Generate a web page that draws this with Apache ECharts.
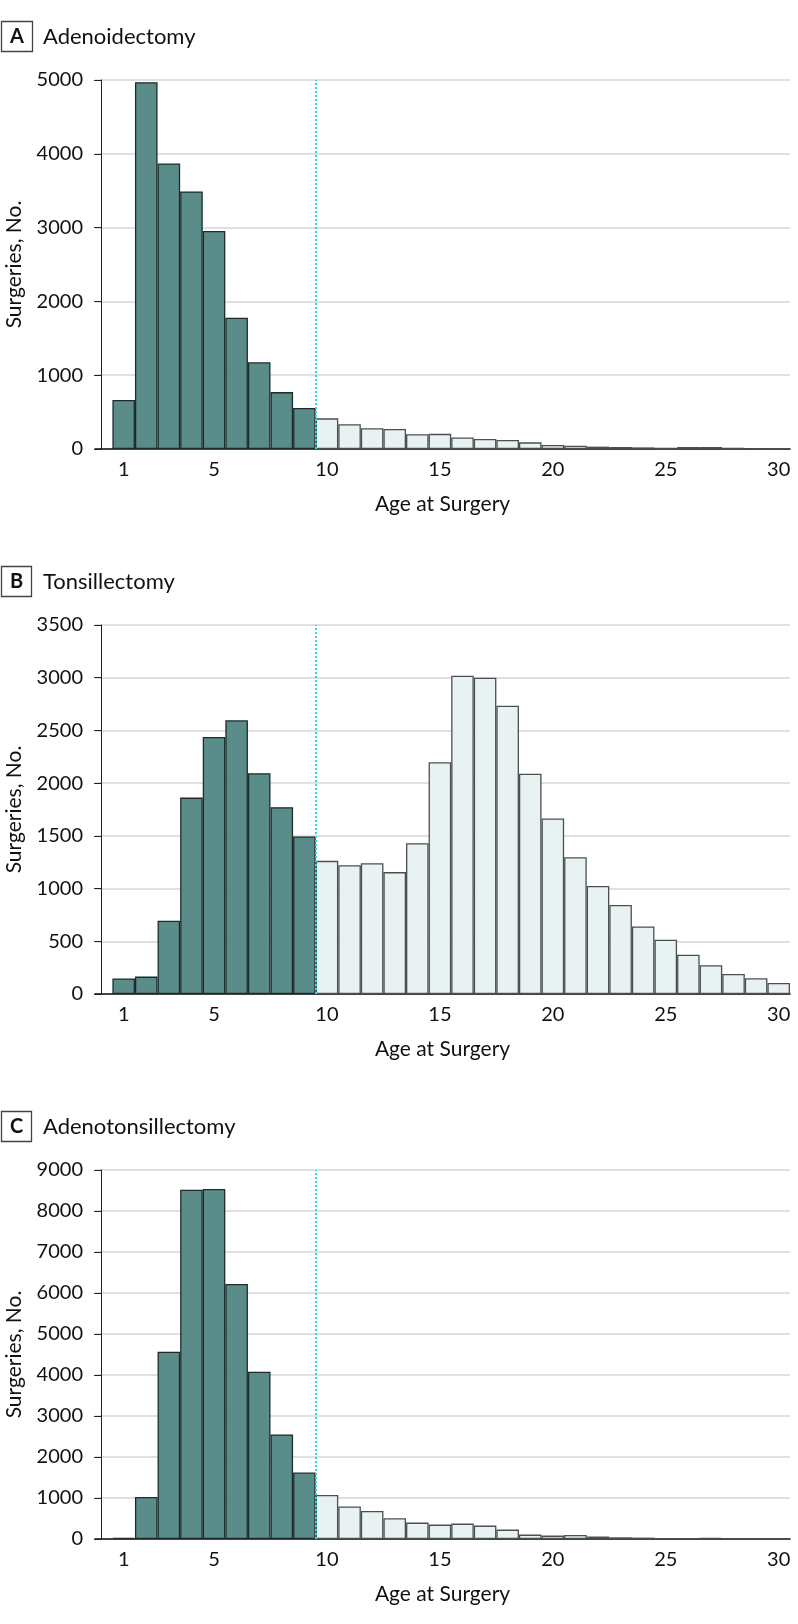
<!DOCTYPE html>
<html>
<head>
<meta charset="utf-8">
<script src="https://cdn.jsdelivr.net/npm/echarts@6/dist/echarts.min.js"></script>
<style>
html,body{margin:0;padding:0;background:#fff;}
#chart{width:798px;height:1624px;}
</style>
</head>
<body>
<div id="chart"></div>
<script>
// ---- data ----
const ages = [1,2,3,4,5,6,7,8,9,10,11,12,13,14,15,16,17,18,19,20,21,22,23,24,25,26,27,28,29,30];
const adenoidectomy = [663,4970,3870,3490,2955,1780,1175,771,555,415,336,282,272,200,205,157,135,122,90,54,45,32,27,22,14,27,27,14,9,9];
const tonsillectomy = [148,165,695,1863,2437,2596,2095,1772,1495,1263,1222,1241,1156,1431,2198,3018,2999,2734,2090,1664,1298,1024,844,641,515,373,272,190,149,105];
const adenotonsillectomy = [30,1027,4566,8519,8536,6218,4078,2550,1621,1072,791,684,505,400,351,376,327,229,107,83,100,61,42,34,18,18,30,10,10,10];
const xTickLabels = [1,5,10,15,20,25,30];
const panelLetters = ['A','B','C'];
const panelNames = ['Adenoidectomy','Tonsillectomy','Adenotonsillectomy'];
const yMax = [5000,3500,9000];
const yInterval = [1000,500,1000];
const cutoffAge = 9.5;

// ---- layout / style ----
const FONT = 'Lato';
const gridTops = [80,625,1170];
const gridH = 369;
const gridLeft = 95;
const gridRight = 8;
const DARK = '#5a8c8a', DARK_BORDER = '#1d2b2b';
const LIGHT = '#e8f2f3', LIGHT_BORDER = '#4a5050';
const TXT = '#111';
const seriesData = [adenoidectomy, tonsillectomy, adenotonsillectomy];

const grids = [], xAxes = [], yAxes = [], series = [], titles = [];
seriesData.forEach((vals, p) => {
  grids.push({left: gridLeft, right: gridRight, top: gridTops[p], height: gridH,
    containLabel: false, outerBoundsMode: 'none'});
  xAxes.push({
    type: 'value', gridIndex: p, min: -0.27, max: 30.5,
    name: 'Age at Surgery', nameLocation: 'middle', nameGap: 45,
    nameTextStyle: {fontFamily: FONT, fontSize: 21, color: TXT},
    axisLine: {show: true, onZero: false, lineStyle: {color: '#111', width: 1.6}},
    axisTick: {show: false},
    splitLine: {show: false},
    axisLabel: {
      customValues: xTickLabels, margin: 11,
      fontFamily: FONT, fontSize: 20, color: TXT
    }
  });
  yAxes.push({
    type: 'value', gridIndex: p, min: 0, max: yMax[p], interval: yInterval[p],
    name: 'Surgeries, No.', nameLocation: 'middle', nameGap: 70,
    nameTextStyle: {fontFamily: FONT, fontSize: 21, color: TXT},
    axisLine: {show: true, lineStyle: {color: '#222', width: 1}},
    axisTick: {show: true, length: 7, lineStyle: {color: '#222', width: 1}},
    axisLabel: {margin: 12, fontFamily: FONT, fontSize: 20, color: TXT,
      formatter: v => String(v)},
    splitLine: {show: true, lineStyle: {color: '#d6d6d6', width: 1.5}}
  });
  series.push({
    type: 'bar', xAxisIndex: p, yAxisIndex: p, barWidth: '100%',
    data: ages.map((a, i) => ({
      value: [a, vals[i]],
      itemStyle: a < cutoffAge
        ? {color: DARK, borderColor: DARK_BORDER, borderWidth: 1.3}
        : {color: LIGHT, borderColor: LIGHT_BORDER, borderWidth: 1.3}
    })),
    markLine: {
      silent: true, symbol: 'none', label: {show: false},
      lineStyle: {color: '#2fd4e2', type: 'dotted', width: 2},
      data: [{xAxis: cutoffAge}]
    },
    z: 2
  });
  titles.push({
    text: panelLetters[p], left: 1, top: gridTops[p] - 59,
    padding: [5, 9, 5, 9],
    borderColor: '#444', borderWidth: 1.3,
    textStyle: {fontFamily: FONT, fontSize: 20, fontWeight: 'bold', color: TXT, lineHeight: 21}
  });
  titles.push({
    text: panelNames[p], left: 43, top: gridTops[p] - 56, padding: 0,
    textStyle: {fontFamily: FONT, fontSize: 22, fontWeight: 'normal', color: TXT, lineHeight: 26}
  });
});

const chart = echarts.init(document.getElementById('chart'), null, {renderer: 'canvas'});
chart.setOption({
  animation: false,
  backgroundColor: '#fff',
  title: titles,
  grid: grids,
  xAxis: xAxes,
  yAxis: yAxes,
  series: series
});
</script>
</body>
</html>
